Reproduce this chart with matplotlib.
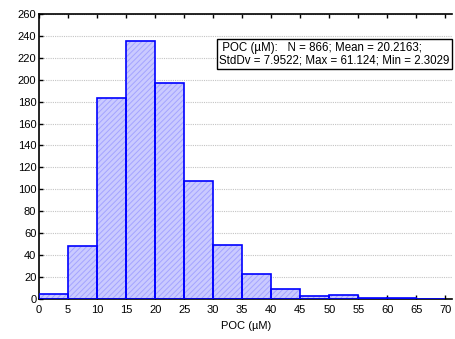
import numpy as np
import matplotlib.pyplot as plt

plt.rcParams['font.family'] = ['Liberation Sans', 'DejaVu Sans']
plt.rcParams['hatch.linewidth'] = 0.7

# histogram bins (POC, µM) and counts
bin_edges = [0, 5, 10, 15, 20, 25, 30, 35, 40, 45, 50, 55, 60, 65, 70]
counts = [5, 48, 183, 235, 197, 108, 49, 23, 9, 3, 4, 1, 1, 0]
x_ticks = [0, 5, 10, 15, 20, 25, 30, 35, 40, 45, 50, 55, 60, 65, 70]
y_ticks = [0, 20, 40, 60, 80, 100, 120, 140, 160, 180, 200, 220, 240, 260]
stats_text = " POC (µM):   N = 866; Mean = 20.2163;\nStdDv = 7.9522; Max = 61.124; Min = 2.3029"

fig = plt.figure(figsize=(4.55, 3.39), dpi=100)
ax = fig.add_axes([0.086, 0.118, 0.908, 0.841])

lefts = np.array(bin_edges[:-1])
widths = np.diff(bin_edges)
# hatched fill (hatch takes edge colour), then solid blue outline on top
ax.bar(lefts, counts, width=widths, align='edge', color='#cacaff',
       edgecolor='#a4a4ff', linewidth=0, hatch='//////', zorder=2)
ax.bar(lefts, counts, width=widths, align='edge', color='none',
       edgecolor='#0000ff', linewidth=1.2, zorder=3)

ax.set_xlim(0, 71.2)
ax.set_ylim(0, 260)
ax.set_xticks(x_ticks)
ax.set_yticks(y_ticks)
ax.tick_params(labelsize=8, direction='in', length=3, width=1)
ax.tick_params(axis='x', top=True, pad=4)
ax.tick_params(axis='y', pad=2)
for s in ['left', 'bottom', 'top']:
    ax.spines[s].set_linewidth(1.2)
ax.spines['right'].set_visible(False)

ax.yaxis.grid(True, color='#c4c4c4', linestyle=(0, (1, 1)), linewidth=0.8, zorder=0)
ax.set_axisbelow(True)
ax.set_xlabel("POC (µM)", fontsize=8, labelpad=5)

ax.text(0.436, 0.903, stats_text, transform=ax.transAxes, ha='left', va='top',
        fontsize=8.3, linespacing=1.15,
        bbox=dict(boxstyle='square,pad=0.2', facecolor='white', edgecolor='black', linewidth=1))

fig.savefig('out.png', dpi=100)
